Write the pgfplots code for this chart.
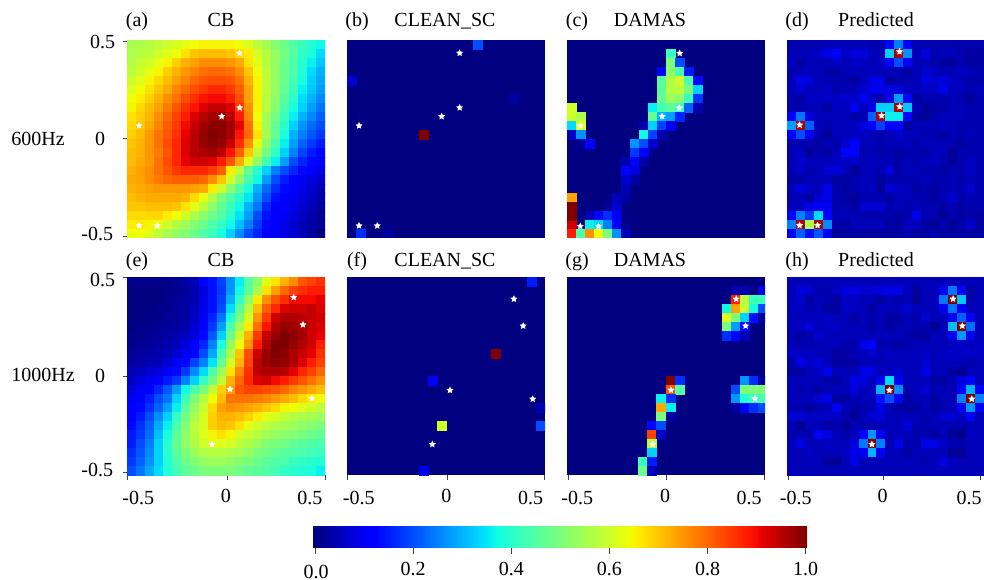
\documentclass[border=0pt]{standalone}
\usepackage{fontspec}
\setmainfont{Liberation Serif}
\usepackage{pgfplots}
\usepackage{pgfplotstable}
\pgfplotsset{compat=1.18}
\pgfdeclareplotmark{fstar}{%
  \pgfpathmoveto{\pgfqpointpolar{90}{\pgfplotmarksize}}%
  \pgfpathlineto{\pgfqpointpolar{126}{0.5\pgfplotmarksize}}%
  \pgfpathlineto{\pgfqpointpolar{162}{\pgfplotmarksize}}%
  \pgfpathlineto{\pgfqpointpolar{198}{0.5\pgfplotmarksize}}%
  \pgfpathlineto{\pgfqpointpolar{234}{\pgfplotmarksize}}%
  \pgfpathlineto{\pgfqpointpolar{270}{0.5\pgfplotmarksize}}%
  \pgfpathlineto{\pgfqpointpolar{306}{\pgfplotmarksize}}%
  \pgfpathlineto{\pgfqpointpolar{342}{0.5\pgfplotmarksize}}%
  \pgfpathlineto{\pgfqpointpolar{18}{\pgfplotmarksize}}%
  \pgfpathlineto{\pgfqpointpolar{54}{0.5\pgfplotmarksize}}%
  \pgfpathclose\pgfusepathqfill}
\definecolor{navyjet}{rgb}{0,0,.5}
\newcommand\tlab[3]{\makebox[0pt]{\hspace{#1}\raisebox{#2}[0pt][0pt]{#3}}}
\newcommand\yl[3]{\raisebox{#1}[0pt][0pt]{#3\hspace{#2}}}
\pgfplotsset{
  colormap={mpljet}{rgb(0pt)=(0,0,.5) rgb(22pt)=(0,0,1) rgb(25pt)=(0,0,1) rgb(68pt)=(0,.86,1) rgb(70pt)=(0,.9,.968) rgb(75pt)=(.08,1,.887) rgb(128pt)=(.935,1,.032) rgb(130pt)=(.968,.963,0) rgb(132pt)=(1,.926,0) rgb(178pt)=(1,.074,0) rgb(182pt)=(.909,0,0) rgb(200pt)=(.5,0,0)},
  panel/.style={scale only axis,width=198pt,height=198pt,xmin=-.5,xmax=.5,ymin=-.5,ymax=.5,
    axis line style={draw=none},axis background/.style={fill=navyjet},
    tick align=outside,major tick length=4.5pt,tick style={black!75,line width=.9pt},
    xtick pos=lower,ytick pos=left,xtick=\empty,ytick=\empty,
    point meta min=0,point meta max=1,clip marker paths=true,
    tick label style={font=\fontsize{20}{20}\selectfont},
    xticklabel style={inner sep=0pt,outer sep=0pt,yshift=-24pt},
    yticklabel style={inner sep=0pt,outer sep=0pt,xshift=-7.5pt}},
  cellplot/.style={scatter,only marks,mark=square*,mark size=4.5pt,point meta=explicit,line width=.15pt,
    scatter/use mapped color={draw=mapped color,fill=mapped color}},
  stars/.style={only marks,mark=fstar,mark size=3.7pt,white,mark options={white},point meta=none}}
\newcommand\gridx{mod(\coordindex,22)/22-0.5+1/44}
\newcommand\gridy{0.5-1/44-floor((\coordindex+0.5)/22)/22}
\newcommand\cx{(\thisrowno{0}+.5)/22-.5}
\newcommand\cy{.5-(\thisrowno{1}+.5)/22}
\pgfplotstableread{
0.069 0.434
0.069 0.158
-0.022 0.114
-0.439 0.067
-0.439 -0.438
-0.347 -0.438
}\starsA
\pgfplotstableread{
0.069 0.433
0.067 0.157
-0.02 0.114
-0.433 0.066
-0.433 -0.441
-0.341 -0.441
}\starsC
\pgfplotstableread{
0.071 0.441
0.072 0.163
-0.02 0.118
-0.436 0.071
-0.436 -0.436
-0.345 -0.436
}\starsD
\pgfplotstableread{
0.342 0.397
0.389 0.259
0.02 -0.067
0.434 -0.113
-0.071 -0.345
}\starsE
\pgfplotstableread{
0.343 0.389
0.39 0.253
0.02 -0.072
0.438 -0.116
-0.069 -0.345
}\starsF
\pgfplotstableread{
0.355 0.389
0.402 0.253
0.025 -0.071
0.449 -0.114
-0.067 -0.345
}\starsG
\newcommand\ttl[3]{\node[anchor=base,inner sep=0pt,font=\fontsize{20}{20}\selectfont] at (#1pt,-#2pt) {#3};}
\begin{document}
\begin{tikzpicture}
\path (0pt,0pt) rectangle (984pt,-580pt);
\ttl{137}{26.5}{(a)}\ttl{221}{26.5}{CB}\ttl{357}{26.5}{(b)}\ttl{445}{26.5}{CLEAN\_SC}\ttl{577}{26.5}{(c)}\ttl{650}{26.5}{DAMAS}\ttl{797}{26.5}{(d)}\ttl{876}{26.5}{Predicted}
\ttl{137}{266.5}{(e)}\ttl{221}{266.5}{CB}\ttl{357}{266.5}{(f)}\ttl{445}{266.5}{CLEAN\_SC}\ttl{577}{266.5}{(g)}\ttl{650}{266.5}{DAMAS}\ttl{797}{266.5}{(h)}\ttl{876}{266.5}{Predicted}
\ttl{38}{145.5}{600Hz}\ttl{43}{381.5}{1000Hz}
% (a)
\begin{axis}[panel,at={(127pt,-238pt)},anchor=south west,ytick={-.49,.003,.495},yticklabels={\yl{-4pt}{2pt}{-0.5},\yl{-6.7pt}{10pt}{0},\yl{-7.5pt}{0pt}{0.5}}]
\addplot[cellplot] table[row sep=\\,header=false,x expr={\gridx},y expr={\gridy},meta expr={\thisrowno{0}}] {
.55\\.56\\.57\\.58\\.6\\.61\\.63\\.64\\.65\\.65\\.65\\.65\\.64\\.62\\.58\\.55\\.51\\.48\\.45\\.42\\.39\\.37\\
.56\\.57\\.58\\.6\\.62\\.64\\.67\\.7\\.71\\.71\\.71\\.7\\.68\\.66\\.61\\.57\\.53\\.49\\.45\\.41\\.38\\.34\\
.57\\.59\\.6\\.63\\.65\\.69\\.72\\.74\\.76\\.76\\.76\\.75\\.73\\.67\\.62\\.57\\.53\\.48\\.44\\.4\\.36\\.32\\
.58\\.6\\.63\\.65\\.69\\.72\\.75\\.77\\.79\\.8\\.8\\.79\\.76\\.7\\.64\\.58\\.53\\.48\\.44\\.39\\.34\\.3\\
.6\\.62\\.65\\.68\\.71\\.74\\.77\\.8\\.82\\.83\\.83\\.82\\.79\\.72\\.65\\.58\\.53\\.48\\.43\\.38\\.33\\.29\\
.62\\.64\\.67\\.7\\.73\\.77\\.8\\.83\\.85\\.87\\.87\\.85\\.81\\.74\\.65\\.58\\.53\\.47\\.42\\.36\\.32\\.28\\
.64\\.66\\.69\\.72\\.76\\.79\\.83\\.86\\.89\\.9\\.9\\.88\\.83\\.74\\.65\\.57\\.52\\.46\\.4\\.34\\.3\\.26\\
.65\\.68\\.71\\.74\\.78\\.82\\.86\\.89\\.92\\.94\\.94\\.92\\.85\\.76\\.65\\.57\\.51\\.44\\.38\\.33\\.28\\.24\\
.67\\.69\\.72\\.76\\.8\\.84\\.88\\.92\\.95\\.97\\.97\\.95\\.88\\.77\\.64\\.55\\.49\\.42\\.36\\.3\\.26\\.22\\
.68\\.7\\.73\\.77\\.81\\.85\\.9\\.94\\.97\\.99\\.99\\.97\\.91\\.79\\.65\\.54\\.47\\.4\\.33\\.27\\.23\\.2\\
.69\\.71\\.75\\.79\\.82\\.86\\.91\\.95\\.98\\1\\.99\\.97\\.89\\.8\\.67\\.55\\.47\\.38\\.3\\.25\\.21\\.18\\
.7\\.72\\.75\\.79\\.83\\.87\\.92\\.95\\.98\\.99\\.98\\.94\\.86\\.76\\.63\\.52\\.44\\.36\\.28\\.22\\.18\\.15\\
.71\\.72\\.75\\.78\\.82\\.87\\.92\\.95\\.96\\.97\\.95\\.89\\.81\\.7\\.58\\.49\\.41\\.33\\.25\\.19\\.15\\.13\\
.71\\.73\\.75\\.79\\.83\\.87\\.91\\.93\\.93\\.92\\.88\\.82\\.73\\.62\\.52\\.43\\.36\\.28\\.2\\.16\\.13\\.11\\
.72\\.74\\.76\\.79\\.82\\.85\\.87\\.87\\.87\\.85\\.81\\.66\\.58\\.47\\.4\\.33\\.25\\.2\\.16\\.13\\.11\\.09\\
.73\\.74\\.76\\.78\\.8\\.81\\.81\\.81\\.8\\.76\\.7\\.6\\.52\\.44\\.37\\.28\\.2\\.15\\.12\\.1\\.08\\.07\\
.72\\.73\\.74\\.75\\.75\\.75\\.75\\.74\\.73\\.66\\.6\\.52\\.45\\.38\\.3\\.23\\.17\\.13\\.11\\.09\\.07\\.05\\
.71\\.72\\.73\\.73\\.73\\.73\\.72\\.68\\.63\\.57\\.5\\.45\\.4\\.35\\.27\\.2\\.14\\.12\\.1\\.08\\.06\\.04\\
.7\\.7\\.71\\.71\\.71\\.7\\.67\\.63\\.58\\.52\\.47\\.42\\.37\\.3\\.24\\.16\\.12\\.11\\.09\\.07\\.05\\.03\\
.68\\.68\\.68\\.68\\.66\\.64\\.6\\.56\\.52\\.48\\.45\\.4\\.35\\.28\\.2\\.14\\.12\\.1\\.08\\.06\\.04\\.02\\
.66\\.66\\.65\\.63\\.6\\.57\\.54\\.51\\.48\\.44\\.41\\.37\\.31\\.25\\.18\\.13\\.11\\.09\\.07\\.05\\.03\\.02\\
.64\\.64\\.62\\.58\\.55\\.53\\.51\\.48\\.45\\.42\\.38\\.33\\.26\\.2\\.16\\.12\\.11\\.09\\.07\\.05\\.03\\0\\
};
\addplot[stars] table {\starsA};
\end{axis}
% (b)
\begin{axis}[panel,at={(347pt,-238pt)},anchor=south west]
\addplot[cellplot] table[row sep=\\,header=false,x expr={\cx},y expr={\cy},meta expr={\thisrowno{2}}] {14 0 .2\\0 4 .07\\18 6 .03\\8 10 1\\1 21 .17\\4 21 .03\\};
\addplot[stars] table {\starsA};
\end{axis}
% (c)
\begin{axis}[panel,at={(567pt,-238pt)},anchor=south west]
\addplot[cellplot] table[row sep=\\,header=false,x expr={\cx},y expr={\cy},meta expr={\thisrowno{2}}] {
11 1 .42\\11 2 .5\\12 2 .2\\10 3 .12\\11 3 .52\\12 3 .44\\13 3 .15\\
10 4 .46\\11 4 .56\\12 4 .6\\13 4 .44\\14 4 .13\\10 5 .46\\11 5 .57\\12 5 .58\\13 5 .5\\14 5 .33\\
10 6 .47\\11 6 .54\\12 6 .52\\13 6 .42\\14 6 .18\\9 7 .36\\10 7 .43\\11 7 .46\\12 7 .42\\13 7 .22\\14 7 .04\\
9 8 .47\\10 8 .3\\11 8 .28\\12 8 .16\\8 9 .04\\9 9 .33\\10 9 .19\\11 9 .1\\8 10 .37\\9 10 .19\\10 10 .04\\
7 11 .27\\8 11 .2\\9 11 .07\\7 12 .18\\8 12 .12\\6 13 .04\\7 13 .12\\8 13 .03\\6 14 .11\\7 14 .08\\6 15 .07\\7 15 .03\\6 16 .05\\
5 17 .05\\6 17 .03\\4 18 .02\\5 18 .07\\2 19 .05\\3 19 .13\\4 19 .17\\5 19 .11\\6 19 .01\\
0 20 .93\\2 20 .36\\3 20 .34\\4 20 .25\\5 20 .12\\6 20 .01\\0 21 .88\\1 21 .44\\2 21 .76\\3 21 .64\\4 21 .5\\5 21 .27\\6 21 .05\\
0 7 .6\\0 8 .6\\1 8 .56\\0 9 .34\\1 9 .62\\0 10 .06\\1 10 .27\\1 11 .02\\2 11 .12\\0 17 .74\\0 18 1\\0 19 1\\
};
\addplot[stars] table {\starsC};
\end{axis}
% (d)
\begin{axis}[panel,width=197pt,at={(787pt,-238pt)},anchor=south west]
\addplot[cellplot] table[row sep=\\,header=false,x expr={\gridx},y expr={\gridy},meta expr={\thisrowno{0}}] {
.04\\.04\\.04\\.04\\.05\\.05\\.05\\.05\\.05\\.04\\.04\\.11\\.25\\.1\\.04\\.04\\.04\\.04\\.04\\.04\\.04\\.04\\
.04\\.05\\.05\\.06\\.09\\.11\\.06\\.08\\.08\\.05\\.05\\.33\\.96\\.27\\.05\\.08\\.04\\.05\\.05\\.04\\.03\\.03\\
.06\\.03\\.05\\.05\\.05\\.06\\.05\\.06\\.06\\.05\\.06\\.11\\.2\\.1\\.05\\.05\\.04\\.03\\.03\\.04\\.03\\.03\\
.04\\.05\\.05\\.05\\.04\\.03\\.05\\.05\\.05\\.05\\.05\\.05\\.05\\.03\\.05\\.07\\.06\\.05\\.05\\.06\\.05\\.04\\
.05\\.09\\.08\\.05\\.05\\.04\\.04\\.03\\.05\\.09\\.09\\.03\\.04\\.04\\.05\\.08\\.07\\.08\\.06\\.05\\.04\\.04\\
.05\\.07\\.05\\.05\\.06\\.04\\.05\\.05\\.07\\.09\\.09\\.08\\.08\\.06\\.05\\.06\\.06\\.09\\.05\\.05\\.04\\.05\\
.04\\.03\\.06\\.06\\.06\\.06\\.07\\.06\\.1\\.06\\.04\\.09\\.28\\.11\\.03\\.05\\.04\\.04\\.05\\.04\\.02\\.04\\
.04\\.04\\.05\\.05\\.03\\.06\\.05\\.1\\.05\\.09\\.33\\.33\\.96\\.32\\.05\\.02\\.03\\.04\\.05\\.05\\.04\\.04\\
.12\\.24\\.08\\.05\\.05\\.05\\.05\\.04\\.04\\.22\\.96\\.36\\.36\\.12\\.03\\.02\\.04\\.05\\.05\\.05\\.04\\.04\\
.28\\.96\\.22\\.05\\.04\\.05\\.05\\.06\\.08\\.11\\.19\\.12\\.12\\.03\\.05\\.05\\.05\\.06\\.05\\.04\\.04\\.04\\
.11\\.2\\.1\\.04\\.02\\.05\\.05\\.06\\.06\\.05\\.04\\.05\\.07\\.05\\.05\\.04\\.04\\.03\\.05\\.04\\.05\\.04\\
.04\\.04\\.04\\.03\\.05\\.04\\.07\\.11\\.05\\.05\\.04\\.05\\.05\\.05\\.04\\.05\\.05\\.05\\.04\\.03\\.04\\.04\\
.04\\.06\\.02\\.04\\.03\\.05\\.11\\.11\\.04\\.05\\.04\\.04\\.03\\.04\\.04\\.04\\.05\\.05\\.02\\.04\\.04\\.04\\
.04\\.07\\.05\\.05\\.05\\.06\\.06\\.06\\.05\\.05\\.05\\.05\\.03\\.05\\.04\\.05\\.06\\.04\\.02\\.04\\.06\\.04\\
.04\\.06\\.04\\.05\\.07\\.08\\.05\\.02\\.05\\.05\\.04\\.08\\.03\\.05\\.05\\.04\\.04\\.03\\.04\\.04\\.06\\.04\\
.03\\.03\\.05\\.05\\.05\\.03\\.03\\.04\\.05\\.05\\.03\\.04\\.04\\.04\\.04\\.05\\.04\\.04\\.05\\.04\\.05\\.04\\
.05\\.08\\.06\\.05\\.09\\.04\\.03\\.04\\.05\\.06\\.02\\.07\\.06\\.05\\.03\\.04\\.03\\.04\\.05\\.04\\.07\\.04\\
.04\\.05\\.03\\.07\\.09\\.04\\.03\\.02\\.04\\.04\\.04\\.03\\.05\\.05\\.04\\.04\\.03\\.05\\.07\\.04\\.05\\.04\\
.05\\.06\\.09\\.1\\.1\\.04\\.04\\.03\\.07\\.07\\.07\\.04\\.05\\.04\\.05\\.04\\.04\\.03\\.05\\.03\\.04\\.04\\
.12\\.25\\.18\\.34\\.11\\.04\\.05\\.05\\.04\\.04\\.04\\.04\\.03\\.04\\.09\\.04\\.04\\.02\\.04\\.03\\.04\\.03\\
.25\\.96\\.56\\.96\\.26\\.04\\.03\\.05\\.05\\.05\\.05\\.03\\.03\\.05\\.05\\.03\\.02\\.04\\.02\\.04\\.07\\.03\\
.11\\.22\\.14\\.21\\.1\\.02\\.03\\.03\\.03\\.03\\.03\\.03\\.03\\.04\\.03\\.03\\.04\\.03\\.03\\.03\\.03\\.03\\
};
\addplot[stars] table {\starsD};
\end{axis}
% (e)
\begin{axis}[panel,at={(127pt,-475pt)},anchor=south west,ytick={-.488,0,.498},yticklabels={\yl{-4.3pt}{2pt}{-0.5},\yl{-6pt}{10pt}{0},\yl{-8.7pt}{0pt}{0.5}},xtick={-.4965,.005,.5},xticklabels={\tlab{21pt}{0pt}{-0.5},\tlab{-2pt}{1.5pt}{0},\tlab{-30pt}{0pt}{0.5}}]
\addplot[cellplot] table[row sep=\\,header=false,x expr={\gridx},y expr={\gridy},meta expr={\thisrowno{0}}] {
.01\\.01\\.01\\.01\\.01\\.02\\.03\\.05\\.11\\.14\\.19\\.27\\.36\\.45\\.52\\.62\\.67\\.72\\.76\\.82\\.84\\.86\\
0\\0\\0\\0\\.01\\.01\\.02\\.04\\.08\\.14\\.18\\.27\\.37\\.46\\.55\\.67\\.74\\.8\\.84\\.86\\.88\\.88\\
0\\0\\0\\0\\.01\\.02\\.03\\.04\\.09\\.14\\.19\\.3\\.41\\.52\\.66\\.76\\.82\\.86\\.9\\.9\\.9\\.91\\
0\\0\\0\\.01\\.01\\.02\\.03\\.05\\.09\\.14\\.2\\.34\\.46\\.57\\.71\\.81\\.87\\.92\\.93\\.93\\.94\\.92\\
0\\0\\.01\\.01\\.02\\.02\\.03\\.06\\.1\\.16\\.24\\.38\\.5\\.61\\.75\\.85\\.93\\.96\\.96\\.95\\.94\\.93\\
0\\.01\\.01\\.02\\.02\\.03\\.04\\.07\\.11\\.18\\.28\\.44\\.55\\.66\\.79\\.89\\.96\\.98\\.97\\.96\\.94\\.92\\
.01\\.01\\.02\\.02\\.03\\.04\\.06\\.08\\.13\\.21\\.33\\.48\\.6\\.72\\.85\\.94\\.98\\1\\.99\\.97\\.93\\.91\\
.01\\.02\\.02\\.03\\.04\\.05\\.08\\.12\\.16\\.25\\.38\\.53\\.64\\.75\\.88\\.96\\1\\1\\.98\\.96\\.93\\.88\\
.02\\.03\\.03\\.04\\.05\\.07\\.1\\.12\\.2\\.29\\.43\\.56\\.7\\.83\\.93\\.98\\1\\.99\\.96\\.94\\.91\\.86\\
.03\\.03\\.04\\.05\\.07\\.1\\.13\\.19\\.25\\.35\\.47\\.6\\.72\\.84\\.95\\.98\\.99\\.98\\.96\\.92\\.88\\.84\\
.05\\.06\\.07\\.08\\.1\\.13\\.18\\.26\\.34\\.44\\.54\\.67\\.77\\.86\\.95\\.96\\.96\\.95\\.91\\.87\\.84\\.8\\
.06\\.08\\.1\\.12\\.15\\.18\\.25\\.33\\.41\\.49\\.58\\.72\\.8\\.87\\.92\\.93\\.9\\.88\\.85\\.82\\.79\\.76\\
.08\\.1\\.12\\.16\\.21\\.28\\.37\\.44\\.5\\.58\\.69\\.74\\.82\\.84\\.84\\.83\\.82\\.8\\.77\\.75\\.73\\.71\\
.1\\.11\\.15\\.2\\.24\\.33\\.42\\.5\\.57\\.64\\.71\\.79\\.79\\.79\\.78\\.77\\.75\\.73\\.71\\.68\\.66\\.64\\
.11\\.13\\.17\\.22\\.28\\.36\\.46\\.53\\.59\\.68\\.74\\.76\\.75\\.74\\.72\\.7\\.68\\.65\\.64\\.62\\.6\\.58\\
.12\\.15\\.2\\.26\\.33\\.41\\.49\\.55\\.61\\.69\\.72\\.72\\.71\\.69\\.66\\.63\\.61\\.59\\.57\\.56\\.55\\.54\\
.13\\.17\\.22\\.29\\.36\\.44\\.51\\.58\\.61\\.69\\.71\\.7\\.67\\.63\\.6\\.58\\.56\\.55\\.54\\.52\\.51\\.5\\
.15\\.18\\.23\\.31\\.38\\.46\\.52\\.57\\.62\\.65\\.67\\.65\\.61\\.59\\.57\\.55\\.53\\.52\\.51\\.5\\.48\\.47\\
.15\\.2\\.25\\.33\\.4\\.47\\.52\\.56\\.6\\.62\\.62\\.61\\.58\\.56\\.54\\.51\\.5\\.49\\.47\\.46\\.45\\.44\\
.17\\.21\\.26\\.33\\.4\\.46\\.5\\.54\\.56\\.57\\.57\\.56\\.55\\.53\\.5\\.49\\.47\\.46\\.45\\.44\\.43\\.42\\
.18\\.22\\.27\\.33\\.39\\.44\\.48\\.51\\.53\\.54\\.54\\.53\\.51\\.5\\.48\\.46\\.45\\.44\\.42\\.41\\.4\\.39\\
.2\\.24\\.29\\.34\\.39\\.43\\.46\\.48\\.5\\.5\\.5\\.5\\.49\\.47\\.46\\.45\\.43\\.41\\.4\\.39\\.38\\.36\\
};
\addplot[stars] table {\starsE};
\end{axis}
% (f)
\begin{axis}[panel,at={(347pt,-475pt)},anchor=south west,xtick={-.4985,.0066,.4975},xticklabels={\tlab{23pt}{0pt}{-0.5},\tlab{-2pt}{1.5pt}{0},\tlab{-28pt}{0pt}{0.5}}]
\addplot[cellplot] table[row sep=\\,header=false,x expr={\cx},y expr={\cy},meta expr={\thisrowno{2}}] {20 0 .15\\16 8 1\\9 11 .1\\10 16 .6\\21 14 .04\\21 16 .2\\8 21 .09\\};
\addplot[stars] table {\starsF};
\end{axis}
% (g)
\begin{axis}[panel,at={(567pt,-475pt)},anchor=south west,xtick={-.4934,0,.495},xticklabels={\tlab{18pt}{0pt}{-0.5},\tlab{-2pt}{1.5pt}{0},\tlab{-30pt}{0pt}{0.5}}]
\addplot[cellplot] table[row sep=\\,header=false,x expr={\cx},y expr={\cy},meta expr={\thisrowno{2}}] {
18.25 1 .04\\19.25 1 .04\\21.25 1 .09\\
18.25 2 .88\\19.25 2 .58\\20.25 2 .42\\21.25 2 .42\\
17.25 3 .37\\18.25 3 .74\\19.25 3 .59\\20.25 3 .38\\21.25 3 .2\\
17.25 4 .62\\18.25 4 .5\\19.25 4 .33\\20.25 4 .14\\21.25 4 .03\\
17.25 5 .5\\18.25 5 .28\\19.25 5 .12\\17.25 6 .17\\18.25 6 .11\\19.25 6 .05\\
19.25 11 .27\\20.25 11 .17\\21.25 11 .03\\
18.25 12 .2\\19.25 12 .5\\20.25 12 .5\\21.25 12 .5\\
18.25 13 .27\\19.25 13 .39\\20.25 13 .43\\21.25 13 .43\\
18.25 14 .03\\19.25 14 .12\\20.25 14 .17\\21.25 14 .2\\
11 11 1\\12 11 .17\\11 12 .82\\12 12 .45\\9.93 13 .36\\11 13 .17\\9.93 14 .73\\11 14 .36\\9.93 15 .5\\11 15 .03\\
8.93 16 .13\\9.93 16 .2\\8.93 17 .84\\9.93 17 .06\\8.93 18 .57\\8.93 19 .33\\7.93 20 .42\\8.93 20 .15\\7.93 21 .48\\8.93 21 .05\\
};
\addplot[stars] table {\starsG};
\end{axis}
% (h)
\begin{axis}[panel,width=197pt,at={(787pt,-475pt)},anchor=south west,xtick={-.4934,-.0101,.48},xticklabels={\tlab{15pt}{0pt}{-0.5},\tlab{-2pt}{1.5pt}{0},\tlab{-22pt}{0pt}{0.5}}]
\addplot[cellplot] table[row sep=\\,header=false,x expr={\gridx},y expr={\gridy},meta expr={\thisrowno{0}}] {
.05\\.05\\.05\\.05\\.05\\.05\\.05\\.05\\.05\\.05\\.05\\.05\\.05\\.05\\.05\\.05\\.05\\.05\\.05\\.05\\.05\\.05\\
.05\\.08\\.07\\.04\\.04\\.06\\.08\\.08\\.07\\.07\\.08\\.09\\.09\\.05\\.03\\.05\\.05\\.1\\.24\\.1\\.03\\.05\\
.05\\.07\\.03\\.05\\.04\\.03\\.06\\.06\\.05\\.05\\.03\\.05\\.04\\.05\\.02\\.05\\.05\\.24\\1\\.32\\.04\\.05\\
.05\\.06\\.04\\.05\\.03\\.03\\.06\\.06\\.05\\.03\\.05\\.05\\.05\\.07\\.05\\.05\\.05\\.1\\.24\\.1\\.05\\.05\\
.05\\.05\\.05\\.06\\.06\\.05\\.05\\.03\\.05\\.04\\.05\\.03\\.03\\.05\\.04\\.07\\.05\\.05\\.1\\.22\\.1\\.05\\
.05\\.06\\.08\\.05\\.06\\.06\\.05\\.05\\.05\\.03\\.05\\.03\\.04\\.05\\.04\\.04\\.02\\.05\\.31\\1\\.23\\.05\\
.04\\.03\\.04\\.07\\.05\\.05\\.05\\.05\\.05\\.05\\.05\\.05\\.05\\.04\\.03\\.03\\.05\\.05\\.1\\.27\\.1\\.05\\
.05\\.04\\.04\\.05\\.05\\.05\\.04\\.04\\.09\\.11\\.04\\.04\\.03\\.04\\.05\\.05\\.05\\.05\\.06\\.06\\.06\\.06\\
.06\\.06\\.06\\.05\\.05\\.03\\.03\\.05\\.05\\.07\\.05\\.06\\.05\\.05\\.05\\.06\\.05\\.06\\.06\\.06\\.06\\.06\\
.04\\.09\\.06\\.08\\.05\\.03\\.03\\.03\\.05\\.05\\.05\\.05\\.05\\.05\\.05\\.07\\.05\\.05\\.05\\.05\\.04\\.05\\
.03\\.03\\.05\\.06\\.09\\.05\\.05\\.05\\.09\\.09\\.05\\.06\\.07\\.05\\.05\\.09\\.05\\.05\\.03\\.02\\.05\\.05\\
.05\\.05\\.05\\.05\\.04\\.03\\.05\\.09\\.08\\.05\\.1\\.34\\.1\\.05\\.05\\.05\\.03\\.03\\.05\\.08\\.11\\.05\\
.05\\.04\\.05\\.03\\.05\\.05\\.05\\.08\\.05\\.06\\.3\\1\\.26\\.04\\.05\\.07\\.05\\.05\\.04\\.11\\.3\\.1\\
.05\\.05\\.05\\.07\\.09\\.03\\.03\\.05\\.05\\.05\\.14\\.2\\.1\\.03\\.05\\.05\\.03\\.05\\.05\\.25\\1\\.25\\
.04\\.04\\.03\\.04\\.05\\.1\\.05\\.03\\.04\\.05\\.09\\.05\\.03\\.03\\.03\\.05\\.03\\.04\\.05\\.1\\.27\\.1\\
.07\\.07\\.06\\.06\\.06\\.06\\.04\\.02\\.05\\.07\\.08\\.05\\.05\\.05\\.05\\.04\\.05\\.07\\.07\\.06\\.1\\.05\\
.05\\.02\\.05\\.05\\.03\\.04\\.02\\.05\\.04\\.04\\.05\\.05\\.05\\.08\\.04\\.04\\.05\\.05\\.04\\.04\\.05\\.05\\
.04\\.04\\.04\\.1\\.08\\.05\\.04\\.05\\.11\\.27\\.1\\.05\\.05\\.05\\.04\\.04\\.03\\.05\\.02\\.01\\.06\\.05\\
.05\\.09\\.05\\.05\\.06\\.05\\.05\\.08\\.24\\1\\.25\\.05\\.09\\.04\\.04\\.09\\.09\\.06\\.04\\.04\\.05\\.05\\
.05\\.05\\.06\\.05\\.05\\.05\\.06\\.09\\.1\\.3\\.1\\.05\\.05\\.03\\.05\\.05\\.05\\.05\\.02\\.02\\.05\\.05\\
.05\\.05\\.05\\.05\\.03\\.02\\.05\\.09\\.05\\.05\\.05\\.05\\.05\\.05\\.05\\.04\\.05\\.08\\.05\\.05\\.05\\.05\\
.05\\.05\\.05\\.05\\.05\\.05\\.05\\.05\\.05\\.05\\.05\\.05\\.05\\.05\\.05\\.05\\.05\\.05\\.05\\.05\\.05\\.05\\
};
\addplot[stars] table {\starsF};
\end{axis}
% colour scale
\begin{axis}[scale only axis,width=494pt,height=22pt,at={(313pt,-548pt)},anchor=south west,
  xmin=-.0041,xmax=1.0027,ymin=0,ymax=1,point meta min=0,point meta max=1,clip marker paths=true,
  axis line style={draw=none},tick align=outside,major tick length=5.5pt,tick style={black!75,line width=.9pt},
  xtick pos=lower,ytick=\empty,xtick={0,.2,.4,.6,.8,1},
  xticklabels={\tlab{2pt}{-3.3pt}{0.0},\tlab{0pt}{0pt}{0.2},\tlab{0pt}{0pt}{0.4},\tlab{0pt}{0pt}{0.6},\tlab{0pt}{0pt}{0.8},\tlab{0pt}{0pt}{1.0}},
  tick label style={font=\fontsize{20}{20}\selectfont},
  xticklabel style={inner sep=0pt,outer sep=0pt,yshift=-21.5pt}]
\addplot[scatter,only marks,mark=|,mark size=11pt,mark options={line width=3pt},point meta=x,samples=203,domain=-.0041:1.0027,
  scatter/use mapped color={draw=mapped color,fill=mapped color}] {0.5};
\end{axis}
\end{tikzpicture}
\end{document}
